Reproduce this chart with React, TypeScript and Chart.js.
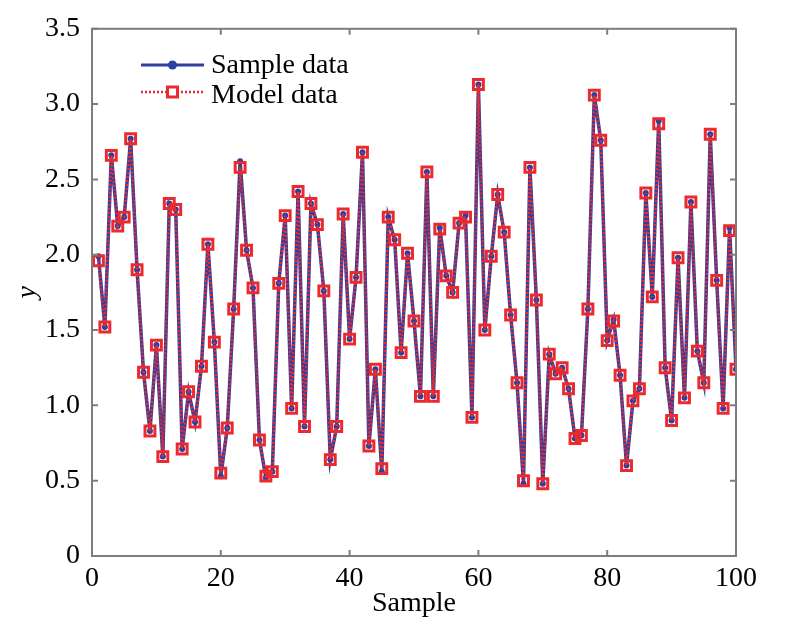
import { useEffect, useRef } from "react"
import { Chart, registerables } from "chart.js"

Chart.register(...registerables)

// (sample index 1..100)
const sampleValues = [
  1.99, 1.52, 2.66, 2.19, 2.25, 2.77, 1.9, 1.22, 0.83, 1.4,
  0.66, 2.34, 2.3, 0.71, 1.09, 0.89, 1.26, 2.07, 1.42, 0.53,
  0.85, 1.64, 2.62, 2.03, 1.78, 0.77, 0.52, 0.56, 1.81, 2.26,
  0.98, 2.42, 0.86, 2.34, 2.2, 1.76, 0.64, 0.86, 2.27, 1.44,
  1.85, 2.68, 0.73, 1.24, 0.56, 2.25, 2.1, 1.35, 2.01, 1.56,
  1.06, 2.55, 1.06, 2.18, 1.86, 1.75, 2.21, 2.26, 0.92, 3.13,
  1.5, 1.99, 2.4, 2.15, 1.6, 1.15, 0.48, 2.58, 1.7, 0.48,
  1.34, 1.21, 1.25, 1.11, 0.78, 0.8, 1.64, 3.06, 2.76, 1.43,
  1.57, 1.2, 0.6, 1.03, 1.11, 2.41, 1.72, 2.89, 1.25, 0.9,
  1.98, 1.05, 2.35, 1.36, 1.15, 2.8, 1.83, 0.98, 2.18, 1.24,
]

const modelValues = [
  1.96, 1.52, 2.66, 2.19, 2.25, 2.77, 1.9, 1.22, 0.83, 1.4,
  0.66, 2.34, 2.3, 0.71, 1.09, 0.89, 1.26, 2.07, 1.42, 0.55,
  0.85, 1.64, 2.58, 2.03, 1.78, 0.77, 0.53, 0.56, 1.81, 2.26,
  0.98, 2.42, 0.86, 2.34, 2.2, 1.76, 0.64, 0.86, 2.27, 1.44,
  1.85, 2.68, 0.73, 1.24, 0.58, 2.25, 2.1, 1.35, 2.01, 1.56,
  1.06, 2.55, 1.06, 2.17, 1.86, 1.75, 2.21, 2.25, 0.92, 3.13,
  1.5, 1.99, 2.4, 2.15, 1.6, 1.15, 0.5, 2.58, 1.7, 0.48,
  1.34, 1.21, 1.25, 1.11, 0.78, 0.8, 1.64, 3.06, 2.76, 1.43,
  1.56, 1.2, 0.6, 1.03, 1.11, 2.41, 1.72, 2.87, 1.25, 0.9,
  1.98, 1.05, 2.35, 1.36, 1.15, 2.8, 1.83, 0.98, 2.16, 1.24,
]

const xTicks = [0, 20, 40, 60, 80, 100]
const yTicks = [0, 0.5, 1.0, 1.5, 2.0, 2.5, 3.0, 3.5]
const seriesLabels = ["Sample data", "Model data"]
const xTitle = "Sample"
const yTitle = "y"

const BLUE = "#2d3f9f"
const RED = "#ec2a2e"
const FRAME = "#7d7d7d"
const FONT = '"Liberation Serif", "DejaVu Serif", serif'

// Box with inward ticks on all four sides, titles and the in-plot legend
const decorations = {
  id: "decorations",
  afterDraw(chart: Chart) {
    const { ctx, chartArea, scales } = chart
    const { left, right, top, bottom } = chartArea
    const x = scales.x
    const y = scales.y
    ctx.save()

    ctx.strokeStyle = FRAME
    ctx.lineWidth = 2
    ctx.strokeRect(left, top, right - left, bottom - top)
    ctx.beginPath()
    xTicks.forEach((v) => {
      const px = x.getPixelForValue(v)
      ctx.moveTo(px, bottom)
      ctx.lineTo(px, bottom - 6)
      ctx.moveTo(px, top)
      ctx.lineTo(px, top + 6)
    })
    yTicks.forEach((v) => {
      const py = y.getPixelForValue(v)
      ctx.moveTo(left, py)
      ctx.lineTo(left + 6, py)
      ctx.moveTo(right, py)
      ctx.lineTo(right - 6, py)
    })
    ctx.stroke()

    // axis titles
    ctx.fillStyle = "#000"
    ctx.textAlign = "center"
    ctx.textBaseline = "middle"
    ctx.font = `28px ${FONT}`
    ctx.fillText(xTitle, (left + right) / 2, 604)
    ctx.save()
    ctx.translate(28, (top + bottom) / 2)
    ctx.rotate(-Math.PI / 2)
    ctx.font = `italic 28px ${FONT}`
    ctx.fillText(yTitle, 0, 0)
    ctx.restore()

    // legend
    const lx0 = 141
    const lx1 = 204
    const mx = (lx0 + lx1) / 2
    ctx.lineWidth = 3
    ctx.strokeStyle = BLUE
    ctx.beginPath()
    ctx.moveTo(lx0, 65)
    ctx.lineTo(lx1, 65)
    ctx.stroke()
    ctx.fillStyle = BLUE
    ctx.beginPath()
    ctx.arc(mx, 65, 4.5, 0, Math.PI * 2)
    ctx.fill()

    ctx.strokeStyle = RED
    ctx.lineWidth = 2.5
    ctx.setLineDash([2, 2])
    ctx.beginPath()
    ctx.moveTo(lx0, 92)
    ctx.lineTo(lx1, 92)
    ctx.stroke()
    ctx.setLineDash([])
    ctx.lineWidth = 3
    ctx.fillStyle = "#fff"
    ctx.fillRect(mx - 5, 87, 10, 10)
    ctx.strokeRect(mx - 5, 87, 10, 10)

    ctx.fillStyle = "#000"
    ctx.textAlign = "left"
    ctx.font = `28px ${FONT}`
    ctx.fillText(seriesLabels[0], 211, 66)
    ctx.fillText(seriesLabels[1], 211, 96)

    ctx.restore()
  },
}

export default function App() {
  const chartRef = useRef<HTMLCanvasElement>(null)
  const chartInstance = useRef<Chart | null>(null)

  useEffect(() => {
    document.body.style.margin = "0"
    if (!chartRef.current) return
    if (chartInstance.current) chartInstance.current.destroy()

    const ctx = chartRef.current.getContext("2d")
    if (!ctx) return

    chartInstance.current = new Chart(ctx, {
      type: "line",
      data: {
        datasets: [
          {
            label: seriesLabels[1],
            data: modelValues.map((v, i) => ({ x: i + 1, y: v })),
            borderColor: RED,
            borderWidth: 2.5,
            borderDash: [2, 2],
            pointStyle: "rect",
            pointRadius: 7,
            pointBorderWidth: 3,
            pointBorderColor: RED,
            pointBackgroundColor: "rgba(255,255,255,0)",
            tension: 0,
          },
          {
            label: seriesLabels[0],
            data: sampleValues.map((v, i) => ({ x: i + 1, y: v })),
            borderColor: BLUE,
            borderWidth: 3.5,
            pointStyle: "circle",
            pointRadius: 3,
            pointBorderWidth: 0,
            pointBackgroundColor: BLUE,
            tension: 0,
          },
        ],
      },
      options: {
        responsive: false,
        animation: false,
        devicePixelRatio: 1,
        layout: { padding: { top: 25, right: 50, left: 0, bottom: 0 } },
        plugins: {
          legend: { display: false },
          tooltip: { enabled: false },
        },
        scales: {
          x: {
            type: "linear",
            min: 0,
            max: 100,
            afterFit: (scale) => {
              scale.height = 74
            },
            afterBuildTicks: (scale) => {
              scale.ticks = xTicks.map((value) => ({ value }))
            },
            grid: { display: false, drawTicks: false },
            border: { display: false },
            ticks: {
              color: "#000",
              padding: 6,
              maxRotation: 0,
              font: { family: FONT, size: 28 },
            },
          },
          y: {
            type: "linear",
            min: 0,
            max: 3.5,
            afterFit: (scale) => {
              scale.width = 92
            },
            afterBuildTicks: (scale) => {
              scale.ticks = yTicks.map((value) => ({ value }))
            },
            grid: { display: false, drawTicks: false },
            border: { display: false },
            ticks: {
              color: "#000",
              padding: 12,
              font: { family: FONT, size: 28 },
              callback: (v) => (Number(v) === 0 ? "0" : Number(v).toFixed(1)),
            },
          },
        },
      },
      plugins: [decorations],
    })

    return () => {
      if (chartInstance.current) {
        chartInstance.current.destroy()
        chartInstance.current = null
      }
    }
  }, [])

  return (
    <div style={{ width: 786, height: 630, background: "#fff" }}>
      <canvas ref={chartRef} width={786} height={630} />
    </div>
  )
}
